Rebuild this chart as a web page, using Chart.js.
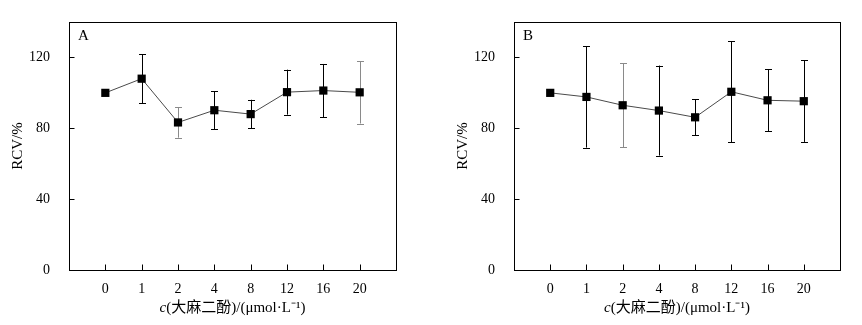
<!DOCTYPE html>
<html>
<head>
<meta charset="utf-8">
<script src="https://cdn.jsdelivr.net/npm/chart.js@4.4.0/dist/chart.umd.min.js"></script>
<style>
  body { margin: 0; background: #fff; width: 862px; height: 325px; position: relative; overflow: hidden; }
  canvas { position: absolute; top: 0; }
  #chartA { left: 0; }
  #chartB { left: 431px; }
</style>
</head>
<body>
<canvas id="chartA" width="431" height="325"></canvas>
<canvas id="chartB" width="431" height="325"></canvas>
<script>
// concentrations of cannabidiol (umol/L), shown as evenly spaced categories
const concLabels = ['0', '1', '2', '4', '8', '12', '16', '20'];

// panel A: RCV (%) mean and error
const rcvA = [100, 108, 83.3, 90.2, 88, 100.4, 101.3, 100.3];
const errA = [0, 13.8, 8.6, 10.6, 8.1, 12.7, 15, 17.6];

// panel B
const rcvB = [100, 97.7, 93, 90, 86.2, 100.6, 95.8, 95.3];
const errB = [0, 28.6, 23.8, 25.4, 10.1, 28.6, 17.6, 23];

const yTicks = [0, 40, 80, 120];

const serif = '"Liberation Serif", "Times New Roman", "Noto Sans CJK SC", serif';

// error bars, frame, inward ticks, panel letter and axis titles
const panelPlugin = {
  id: 'panel',
  beforeDatasetsDraw(chart, args, opts) {
    const ctx = chart.ctx;
    const x = chart.scales.x, y = chart.scales.y;
    ctx.save();
    ctx.lineWidth = 1;
    opts.means.forEach((m, i) => {
      const e = opts.errs[i];
      if (!e) return;
      const px = Math.round(x.getPixelForValue(i)) + 0.5;
      const top = y.getPixelForValue(m + e), bot = y.getPixelForValue(m - e);
      ctx.strokeStyle = opts.grayBars.includes(i) ? '#8a8a8a' : '#000';
      ctx.beginPath();
      ctx.moveTo(px, top); ctx.lineTo(px, bot);
      ctx.moveTo(px - 3.5, Math.round(top) + 0.5); ctx.lineTo(px + 3.5, Math.round(top) + 0.5);
      ctx.moveTo(px - 3.5, Math.round(bot) + 0.5); ctx.lineTo(px + 3.5, Math.round(bot) + 0.5);
      ctx.stroke();
    });
    ctx.restore();
  },
  afterDraw(chart, args, opts) {
    const ctx = chart.ctx;
    const a = chart.chartArea;
    const x = chart.scales.x, y = chart.scales.y;
    ctx.save();
    ctx.strokeStyle = '#000';
    ctx.lineWidth = 1;
    const L = Math.round(a.left) + 0.5, R = Math.round(a.right) + 0.5;
    const T = Math.round(a.top) + 0.5, B = Math.round(a.bottom) + 0.5;
    ctx.strokeRect(L, T, R - L, B - T);
    ctx.beginPath();
    yTicks.forEach(v => {
      const py = Math.round(y.getPixelForValue(v)) + 0.5;
      ctx.moveTo(L, py); ctx.lineTo(L + 5, py);
    });
    concLabels.forEach((c, i) => {
      const px = Math.round(x.getPixelForValue(i)) + 0.5;
      ctx.moveTo(px, B); ctx.lineTo(px, B - 6);
    });
    ctx.stroke();

    ctx.fillStyle = '#000';
    ctx.font = '15px ' + serif;
    ctx.textBaseline = 'middle';
    ctx.textAlign = 'left';
    ctx.fillText(opts.letter, a.left + 9, a.top + 14);

    // y title
    ctx.save();
    ctx.translate(a.left - 51, (a.top + a.bottom) / 2);
    ctx.rotate(-Math.PI / 2);
    ctx.textAlign = 'center';
    ctx.fillText('RCV/%', 0, 0);
    ctx.restore();

    // x title with italic c
    const italic = 'italic 15px ' + serif;
    const normal = '15px ' + serif;
    const rest = '(大麻二酚)/(μmol·L⁻¹)';
    ctx.font = italic;
    const w1 = ctx.measureText('c').width;
    ctx.font = normal;
    const w2 = ctx.measureText(rest).width;
    let sx = (a.left + a.right) / 2 - (w1 + w2) / 2;
    const ty = a.bottom + 38;
    ctx.font = italic;
    ctx.fillText('c', sx, ty);
    ctx.font = normal;
    ctx.fillText(rest, sx + w1, ty);
    ctx.restore();
  }
};

function makePanel(id, means, errs, letter, yWidth, padRight, grayBars) {
  const ctx = document.getElementById(id).getContext('2d');
  return new Chart(ctx, {
    type: 'line',
    data: {
      datasets: [{
        data: means.map((v, i) => ({ x: i, y: v })),
        borderColor: '#4a4a4a',
        borderWidth: 1,
        pointStyle: 'rect',
        pointRadius: 5.8,
        pointBackgroundColor: '#000',
        pointBorderColor: '#000',
        pointBorderWidth: 0,
        tension: 0
      }]
    },
    options: {
      responsive: false,
      animation: false,
      layout: { padding: { left: 0, right: padRight, top: 22, bottom: 0 } },
      plugins: {
        legend: { display: false },
        tooltip: { enabled: false },
        panel: { means: means, errs: errs, letter: letter, grayBars: grayBars }
      },
      scales: {
        x: {
          type: 'linear',
          min: -1,
          max: 8,
          grid: { display: false },
          border: { display: false },
          afterBuildTicks: s => { s.ticks = concLabels.map((c, i) => ({ value: i })); },
          afterFit: s => { s.height = 55; },
          ticks: {
            padding: 3,
            color: '#000',
            font: { family: serif, size: 14 },
            callback: v => concLabels[v]
          }
        },
        y: {
          min: 0,
          max: 140,
          grid: { display: false },
          border: { display: false },
          afterBuildTicks: s => { s.ticks = yTicks.map(v => ({ value: v })); },
          afterFit: s => { s.width = yWidth; },
          ticks: {
            padding: 11,
            color: '#000',
            font: { family: serif, size: 14 }
          }
        }
      }
    },
    plugins: [panelPlugin]
  });
}

makePanel('chartA', rcvA, errA, 'A', 69, 35, [2, 7]);
makePanel('chartB', rcvB, errB, 'B', 83, 22, [2]);
</script>
</body>
</html>
